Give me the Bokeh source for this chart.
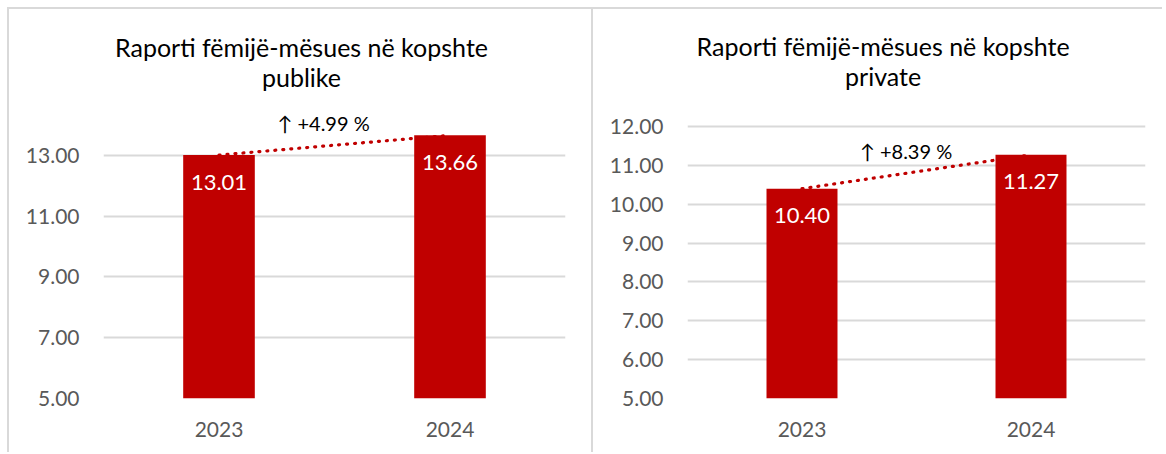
from bokeh.plotting import figure
from bokeh.layouts import row
from bokeh.models import Label, FixedTicker, PrintfTickFormatter, ColumnDataSource
from bokeh.core.properties import value
from bokeh.embed import file_html
from bokeh.resources import INLINE

years = ["2023", "2024"]
public_vals = [13.01, 13.66]
private_vals = [10.40, 11.27]
public_labels = ["13.01", "13.66"]
private_labels = ["10.40", "11.27"]
public_change = "↑ +4.99 %"
private_change = "↑ +8.39 %"
public_title = "Raporti fëmijë-mësues në kopshte\npublike"
private_title = "Raporti fëmijë-mësues në kopshte\nprivate"
public_ticks = [5, 7, 9, 11, 13]
private_ticks = [5, 6, 7, 8, 9, 10, 11, 12]

FONT = "Lato"
RED = "#c00000"
GRID = "#d9d9d9"
H = 445
BORDER = "2px solid #d9d9d9"


def build(vals, labels, ticks, y_end, title, change, W, mb_left, mb_right,
          title_px, change_px):
    mb_bottom = 56
    p = figure(x_range=years, y_range=(ticks[0], y_end), width=W, height=H,
               output_backend="svg", toolbar_location=None, title=None,
               min_border_left=mb_left, min_border_right=mb_right,
               min_border_top=0, min_border_bottom=mb_bottom)
    p.outline_line_color = None
    p.background_fill_color = "white"
    p.border_fill_color = "white"

    frame_w = W - mb_left - mb_right
    frame_h = H - mb_bottom
    y0 = ticks[0]

    def dx(px):
        return (px - mb_left) / frame_w * len(years)

    def dy(py):
        return y0 + (frame_h - py) / frame_h * (y_end - y0)

    src = ColumnDataSource(dict(x=years, top=vals, lab=labels))
    p.vbar(x="x", top="top", bottom=y0, width=0.31, source=src,
           fill_color=RED, line_color=None)
    p.line(x="x", y="top", source=src, line_color=RED, line_width=3.2,
           line_dash="1 7", line_cap="round")
    p.text(x="x", y="top", text="lab", source=src, text_color="white",
           text_font=value(FONT), text_font_size="22px", text_align="center",
           text_baseline="middle", y_offset=27)

    p.yaxis.ticker = FixedTicker(ticks=ticks)
    p.yaxis.formatter = PrintfTickFormatter(format="%.2f")
    for ax in (p.xaxis, p.yaxis):
        ax.axis_line_color = None
        ax.major_tick_line_color = None
        ax.minor_tick_line_color = None
        ax.major_label_text_font = FONT
        ax.major_label_text_font_size = "21px"
        ax.major_label_text_color = "#595959"
    p.yaxis.major_label_standoff = 18
    p.xaxis.major_label_standoff = 17
    p.xgrid.grid_line_color = None
    p.ygrid.grid_line_color = GRID
    p.ygrid.grid_line_width = 2

    p.add_layout(Label(x=dx(title_px[0]), y=dy(title_px[1]), text=title,
                       text_font=FONT, text_font_size="25px", text_color="#000000",
                       text_align="center", text_baseline="middle",
                       text_line_height=1.03))
    p.add_layout(Label(x=dx(change_px[0]), y=dy(change_px[1]), text=change,
                       text_font=FONT, text_font_size="20px", text_color="#000000",
                       text_align="center", text_baseline="middle"))
    p.styles = {"border-left": BORDER, "border-top": BORDER}
    return p


p1 = build(public_vals, public_labels, public_ticks, 17.8, public_title, public_change,
           584, 94, 28, (292, 52.5), (314, 113))
p2 = build(private_vals, private_labels, private_ticks, 15.01, private_title, private_change,
           571, 94, 19, (289.6, 51.5), (312.5, 141))

layout = row(p1, p2, spacing=0)
layout.styles = {"margin-left": "7px", "margin-top": "7px"}
open("out.html", "w").write(file_html(layout, INLINE))
